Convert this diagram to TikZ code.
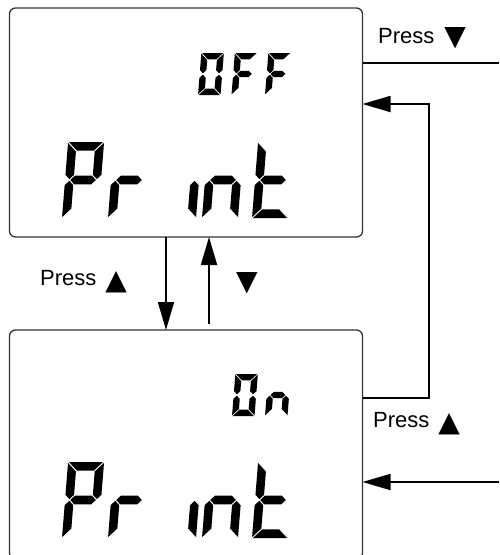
\documentclass[tikz,border=0pt]{standalone}
\usepackage{fontspec}
\setmainfont{Liberation Sans}
\newfontfamily\symf{DejaVu Sans}
\usetikzlibrary{arrows.meta}
\newcommand\dnsym{\raisebox{-2pt}{\symf\fontsize{28}{28}\selectfont ▼}}
\newcommand\upsym{\raisebox{-4pt}{\symf\fontsize{28}{28}\selectfont ▲}}
% seven-segment geometry
\def\dW{36}\def\dH{76}\def\dT{8.5}\def\dG{0.9}
\newcommand\bigdigits{\def\dW{36}\def\dH{76}\def\dT{8.6}\def\dG{0.9}}
\newcommand\smalldigits{\def\dW{22.5}\def\dH{42}\def\dT{6.4}\def\dG{0.7}}
\newcommand\sega{\fill (\dG,\dH) -- ({\dW-\dG},\dH) -- ({\dW-\dT-\dG},{\dH-\dT}) -- ({\dT+\dG},{\dH-\dT}) -- cycle;}
\newcommand\segd{\fill (\dG,0) -- ({\dW-\dG},0) -- ({\dW-\dT-\dG},\dT) -- ({\dT+\dG},\dT) -- cycle;}
\newcommand\segb{\fill (\dW,{\dH-\dG}) -- (\dW,{\dH/2+\dT/2+\dG}) -- ({\dW-\dT/2},{\dH/2+\dG}) -- ({\dW-\dT},{\dH/2+\dT/2+\dG}) -- ({\dW-\dT},{\dH-\dT-\dG}) -- cycle;}
\newcommand\segc{\fill (\dW,\dG) -- (\dW,{\dH/2-\dT/2-\dG}) -- ({\dW-\dT/2},{\dH/2-\dG}) -- ({\dW-\dT},{\dH/2-\dT/2-\dG}) -- ({\dW-\dT},{\dT+\dG}) -- cycle;}
\newcommand\sege{\fill (0,\dG) -- (0,{\dH/2-\dT/2-\dG}) -- ({\dT/2},{\dH/2-\dG}) -- (\dT,{\dH/2-\dT/2-\dG}) -- (\dT,{\dT+\dG}) -- cycle;}
\newcommand\segf{\fill (0,{\dH-\dG}) -- (0,{\dH/2+\dT/2+\dG}) -- ({\dT/2},{\dH/2+\dG}) -- (\dT,{\dH/2+\dT/2+\dG}) -- (\dT,{\dH-\dT-\dG}) -- cycle;}
\newcommand\segg{\fill ({\dT/2+\dG},{\dH/2}) -- ({\dT+\dG},{\dH/2+\dT/2}) -- ({\dW-\dT-\dG},{\dH/2+\dT/2}) -- ({\dW-\dT/2-\dG},{\dH/2}) -- ({\dW-\dT-\dG},{\dH/2-\dT/2}) -- ({\dT+\dG},{\dH/2-\dT/2}) -- cycle;}
\newcommand\lcd[3]{\begin{scope}[shift={(#1,#2)},x=1pt,y=1pt,xslant=0.08]\foreach \s in {#3}{\csname seg\s\endcsname}\end{scope}}
\begin{document}
\begin{tikzpicture}[x=1pt,y=-1pt,
  lcdbox/.style={draw=black!80, line width=1.3pt, rounded corners=6pt, minimum width=353pt, minimum height=229pt, inner sep=0pt, outer sep=0pt},
  conn/.style={line width=1.8pt},
  arr/.style={conn, -{Triangle[length=28pt,width=16pt]}},
  lbl/.style={inner sep=0pt, anchor=base west, font=\fontsize{22}{24}\selectfont}]
\useasboundingbox (0,0) rectangle (499,555);
\clip (0,0) rectangle (499,555);
\node[lcdbox] (top) at (186,122.5) {};
\node[lcdbox] (bot) at (186,444.5) {};
% displays
\bigdigits
\lcd{62}{218}{a,b,f,g,e}
\lcd{108}{218}{e,g}
\lcd{160}{218}{c}
\lcd{202}{218}{e,g,c}
\lcd{252}{218}{f,e,g,d}
\lcd{62}{538}{a,b,f,g,e}
\lcd{108}{538}{e,g}
\lcd{160}{538}{c}
\lcd{202}{538}{e,g,c}
\lcd{252}{538}{f,e,g,d}
\smalldigits
\lcd{198}{95}{a,b,c,d,e,f}
\lcd{231.5}{95}{a,f,g,e}
\lcd{265}{95}{a,f,g,e}
\lcd{232}{416}{a,b,c,d,e,f}
\lcd{265}{416}{e,g,c}
% connectors
\coordinate (cd) at (166,0);
\coordinate (us) at (209,324);
\coordinate (o1) at (499,63);
\coordinate (l1) at (429,398);
\coordinate (l2) at (429,104);
\coordinate (i2) at (499,482);
\draw[arr] (top.south -| cd) -- (bot.north -| cd);
\draw[arr] (us) -- (us |- top.south);
\draw[conn] (o1 -| top.east) -- (o1);
\draw[arr] (l1 -| bot.east) -- (l1) -- (l2) -- (l2 -| top.east);
\draw[arr] (i2) -- (i2 -| bot.east);
% labels
\node[lbl] (t1) at (378,43) {Press\hspace{10pt}\dnsym};
\node[lbl] (t2) at (40,285) {Press\hspace{9pt}\upsym};
\node[lbl] (t3) at (236,288) {\dnsym};
\node[lbl] (t4) at (373,427) {Press\hspace{9pt}\upsym};
\end{tikzpicture}
\end{document}
